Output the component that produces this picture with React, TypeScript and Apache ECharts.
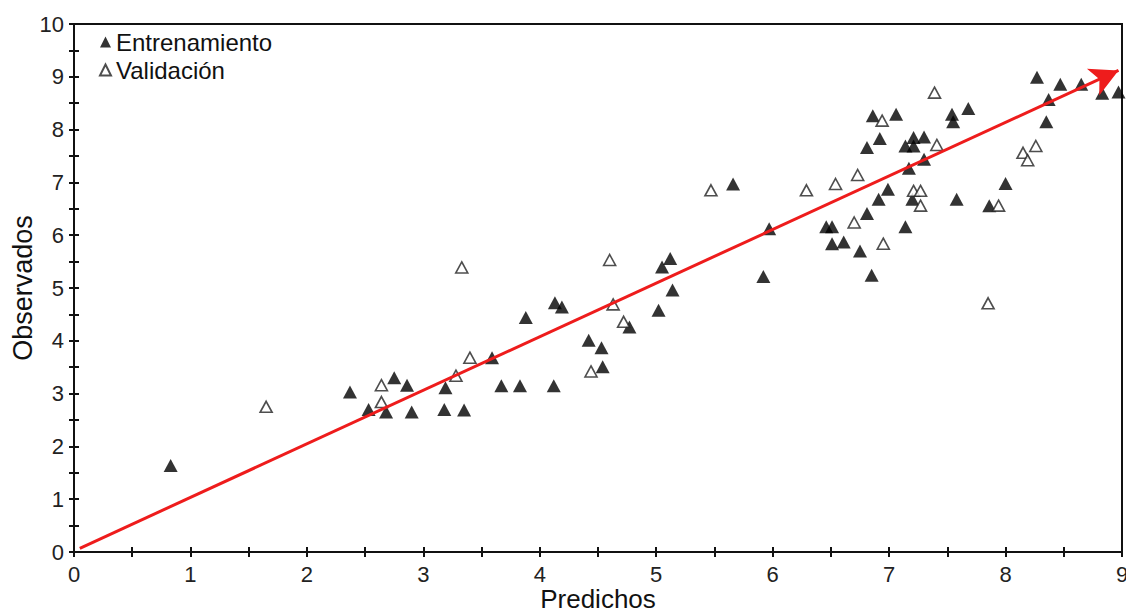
import React, { useEffect, useRef } from "react";
import * as echarts from "echarts";

// Entrenamiento (filled triangles): [Predichos, Observados]
const trainX = [0.83, 2.37, 2.53, 2.68, 2.75, 2.86, 2.90, 3.19, 3.18, 3.35, 3.59, 3.67, 3.83, 3.88, 4.12, 4.13, 4.19, 4.42, 4.53, 4.54, 4.77, 5.02, 5.05, 5.12, 5.14, 5.66, 5.97, 5.92, 6.46, 6.51, 6.51, 6.61, 6.75, 6.81, 6.85, 6.91, 6.99, 6.81, 6.92, 6.86, 7.06, 7.14, 7.21, 7.21, 7.30, 7.17, 7.30, 7.20, 7.14, 7.58, 7.54, 7.55, 7.68, 8.00, 7.86, 8.35, 8.37, 8.27, 8.47, 8.65, 8.83, 8.97];
const trainY = [1.64, 3.03, 2.70, 2.65, 3.30, 3.16, 2.65, 3.11, 2.70, 2.69, 3.68, 3.15, 3.15, 4.44, 3.15, 4.72, 4.64, 4.01, 3.87, 3.51, 4.26, 4.58, 5.40, 5.56, 4.96, 6.97, 6.12, 5.22, 6.16, 6.16, 5.84, 5.87, 5.70, 6.41, 5.24, 6.68, 6.87, 7.66, 7.83, 8.26, 8.29, 7.69, 7.85, 7.69, 7.86, 7.27, 7.44, 6.68, 6.16, 6.68, 8.29, 8.15, 8.40, 6.98, 6.56, 8.15, 8.57, 8.99, 8.86, 8.86, 8.69, 8.71];

// Validación (open triangles)
const validX = [1.65, 2.64, 2.64, 3.28, 3.33, 3.40, 4.44, 4.60, 4.63, 4.72, 5.47, 6.29, 6.54, 6.73, 6.70, 6.95, 6.94, 7.41, 7.21, 7.27, 7.27, 7.39, 7.94, 7.85, 8.15, 8.19, 8.26];
const validY = [2.75, 3.16, 2.84, 3.34, 5.39, 3.68, 3.42, 5.53, 4.69, 4.36, 6.85, 6.85, 6.97, 7.14, 6.24, 5.84, 8.17, 7.71, 6.84, 6.84, 6.56, 8.70, 6.56, 4.71, 7.56, 7.42, 7.69];

// Red arrow (1:1 fit line) endpoints
const fitLineX = [0.05, 8.97];
const fitLineY = [0.07, 9.12];

const xTicks = [0, 1, 2, 3, 4, 5, 6, 7, 8, 9];
const yTicks = [0, 1, 2, 3, 4, 5, 6, 7, 8, 9, 10];

const FONT = "Arial, 'Liberation Sans', sans-serif";

export default function App() {
  const ref = useRef<HTMLDivElement>(null);

  useEffect(() => {
    if (!ref.current) return;
    const chart = echarts.init(ref.current, undefined, { renderer: "svg" });

    const train = trainX.map((x, i) => [x, trainY[i]]);
    const valid = validX.map((x, i) => [x, validY[i]]);

    const tickStyle = { color: "#111", width: 2 };

    chart.setOption({
      animation: false,
      backgroundColor: "#fff",
      grid: {
        left: 74,
        right: 4,
        top: 24,
        bottom: 62,
        containLabel: false,
        outerBoundsMode: "none",
        show: true,
        borderColor: "#111",
        borderWidth: 2,
        backgroundColor: "transparent",
      },
      legend: {
        orient: "vertical",
        left: 94,
        top: 25,
        itemWidth: 11,
        itemHeight: 11,
        itemGap: 4,
        textStyle: { fontSize: 24, color: "#111", fontFamily: FONT },
        data: ["Entrenamiento", "Validación"],
      },
      xAxis: [
        {
          type: "value",
          min: xTicks[0],
          max: xTicks[xTicks.length - 1],
          interval: 1,
          name: "Predichos",
          nameLocation: "middle",
          nameGap: 34,
          nameMoveOverlap: false,
          nameTextStyle: { fontSize: 26, color: "#111", fontFamily: FONT },
          axisLine: { show: true, lineStyle: { color: "#111", width: 2 } },
          splitLine: { show: false },
          axisTick: { show: true, length: 5, lineStyle: tickStyle },
          minorTick: { show: true, splitNumber: 2, length: 5, lineStyle: tickStyle },
          axisLabel: { fontSize: 22, color: "#222", fontFamily: FONT, margin: 11 },
        },
        {
          type: "value",
          position: "bottom",
          min: xTicks[0],
          max: xTicks[xTicks.length - 1],
          interval: 1,
          axisLine: { show: false },
          splitLine: { show: false },
          axisTick: { show: true, inside: true, length: 5, lineStyle: tickStyle },
          minorTick: { show: true, splitNumber: 2, length: 5, lineStyle: tickStyle },
          axisLabel: { show: false },
        },
      ],
      yAxis: [
        {
          type: "value",
          min: yTicks[0],
          max: yTicks[yTicks.length - 1],
          interval: 1,
          name: "Observados",
          nameLocation: "middle",
          nameGap: 38,
          nameMoveOverlap: false,
          nameRotate: 90,
          nameTextStyle: { fontSize: 27, color: "#111", fontFamily: FONT },
          axisLine: { show: true, lineStyle: { color: "#111", width: 2 } },
          splitLine: { show: false },
          axisTick: { show: true, length: 5, lineStyle: tickStyle },
          minorTick: { show: true, splitNumber: 2, length: 5, lineStyle: tickStyle },
          axisLabel: { fontSize: 22, color: "#222", fontFamily: FONT, margin: 10 },
        },
        {
          type: "value",
          position: "left",
          min: yTicks[0],
          max: yTicks[yTicks.length - 1],
          interval: 1,
          axisLine: { show: false },
          splitLine: { show: false },
          axisTick: { show: true, inside: true, length: 5, lineStyle: tickStyle },
          minorTick: { show: true, splitNumber: 2, length: 5, lineStyle: tickStyle },
          axisLabel: { show: false },
        },
      ],
      series: [
        {
          name: "Fit",
          type: "line",
          data: fitLineX.map((x, i) => [x, fitLineY[i]]),
          showSymbol: false,
          symbol: "none",
          lineStyle: { width: 0, opacity: 0 },
          silent: true,
          markLine: {
            silent: true,
            symbol: ["none", "arrow"],
            symbolSize: [22, 28],
            label: { show: false },
            lineStyle: { color: "#ee1c1c", width: 3, type: "solid" },
            data: [
              [
                { coord: [fitLineX[0], fitLineY[0]] },
                { coord: [fitLineX[1], fitLineY[1]] },
              ],
            ],
          },
          z: 1,
        },
        {
          name: "Entrenamiento",
          type: "scatter",
          symbol: "triangle",
          symbolSize: [14, 13],
          itemStyle: { color: "#000" },
          data: train,
          z: 3,
        },
        {
          name: "Validación",
          type: "scatter",
          symbol: "triangle",
          symbolSize: [12, 11],
          itemStyle: { color: "#fff", borderColor: "#222", borderWidth: 1.6 },
          data: valid,
          z: 3,
        },
      ],
    });

    return () => chart.dispose();
  }, []);

  return (
    <div
      ref={ref}
      style={{ position: "fixed", left: 0, top: 0, width: 1126, height: 614, background: "#fff" }}
    />
  );
}
